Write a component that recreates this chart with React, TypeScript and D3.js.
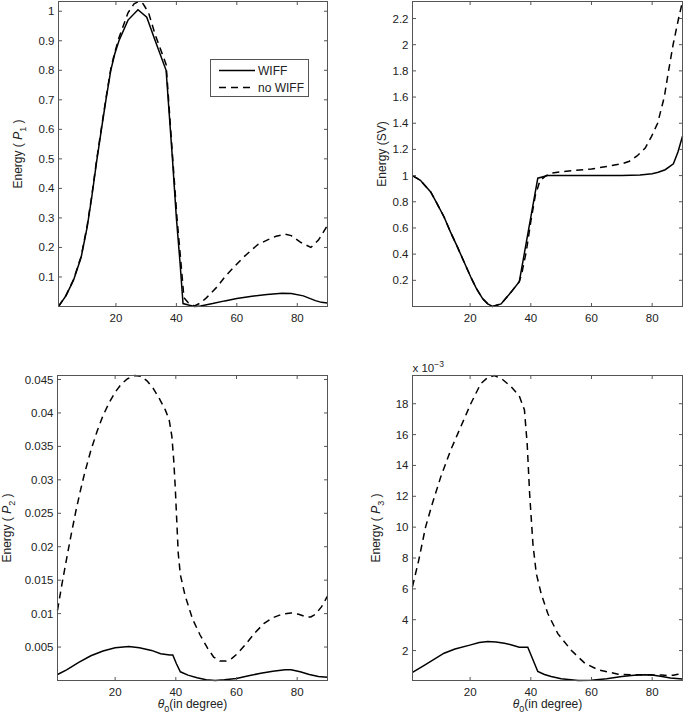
import React from "react";
import * as d3 from "d3";

type Pt = [number, number];

// Panel 1: Energy (P1)
const p1Wiff: Pt[] = [
  [1, 0.0], [3.5, 0.037], [6, 0.09], [8.5, 0.167], [10.5, 0.27], [12, 0.37], [13.6, 0.49],
  [15.2, 0.6], [16.7, 0.7], [18.3, 0.8], [19.6, 0.855], [21, 0.9], [24, 0.97], [27.3, 1.005],
  [30.2, 0.98], [33, 0.9], [36.6, 0.8], [38.7, 0.5], [40, 0.3], [41.2, 0.15], [42.2, 0.01],
  [44, 0.005], [46, 0.0], [48, 0.002], [52, 0.01], [56, 0.019], [60, 0.027], [65, 0.035],
  [70, 0.041], [75, 0.045], [78, 0.044], [82, 0.036], [86, 0.02], [88, 0.014], [90, 0.012],
];
const p1NoWiff: Pt[] = [
  [1, 0.0], [3.5, 0.038], [6, 0.092], [8.5, 0.17], [10.5, 0.275], [12, 0.375], [13.6, 0.495],
  [15.2, 0.605], [16.7, 0.705], [18.3, 0.805], [19.6, 0.86], [21, 0.91], [24, 0.995],
  [26, 1.025], [27.5, 1.033], [29, 1.025], [30.8, 0.995], [33, 0.92], [36.6, 0.82],
  [38.8, 0.5], [40.2, 0.3], [41.5, 0.15], [42.5, 0.03], [44, 0.012], [46, 0.002], [48, 0.012],
  [50, 0.03], [53.6, 0.068], [56, 0.1], [59, 0.133], [62, 0.165], [64.7, 0.19], [67, 0.21],
  [70, 0.225], [73, 0.238], [76, 0.245], [78, 0.24], [81, 0.218], [84.5, 0.2], [87, 0.225],
  [90, 0.275],
];
const p1Ticks = [0.1, 0.2, 0.3, 0.4, 0.5, 0.6, 0.7, 0.8, 0.9, 1];
const p1TickLabels = ["0.1", "0.2", "0.3", "0.4", "0.5", "0.6", "0.7", "0.8", "0.9", "1"];

// Panel 2: Energy (SV)
const p2Wiff: Pt[] = [
  [1, 1.0], [3.6, 0.964], [7, 0.875], [9, 0.79], [11.4, 0.684], [13.5, 0.57], [15.8, 0.455],
  [18, 0.34], [20.2, 0.225], [22, 0.14], [24.1, 0.06], [25.8, 0.02], [27.4, 0.0], [30.2, 0.02],
  [33.5, 0.11], [36.2, 0.19], [42.3, 0.98], [45.6, 1.0], [50, 1.0], [60, 1.0], [70, 1.0],
  [76, 1.005], [80, 1.015], [82, 1.025], [84.3, 1.045], [87, 1.09], [88.5, 1.18], [90, 1.3],
];
const p2NoWiff: Pt[] = [
  [1, 1.0], [3.6, 0.964], [7, 0.875], [9, 0.79], [11.4, 0.684], [13.5, 0.57], [15.8, 0.455],
  [18, 0.34], [20.2, 0.225], [22, 0.14], [24.1, 0.06], [25.8, 0.02], [27.4, 0.0], [30.2, 0.02],
  [33.5, 0.11], [36.2, 0.19], [37, 0.25], [38.5, 0.42], [40, 0.65], [41.5, 0.85], [43, 0.96],
  [45, 1.0], [47, 1.02], [50, 1.03], [55, 1.04], [60, 1.05], [65, 1.07], [70, 1.09],
  [72.5, 1.11], [75, 1.15], [77.7, 1.21], [79.8, 1.3], [81.8, 1.4], [84, 1.6], [85.4, 1.8],
  [86.9, 2.0], [88.7, 2.2], [90, 2.33],
];
const p2Ticks = [0.2, 0.4, 0.6, 0.8, 1, 1.2, 1.4, 1.6, 1.8, 2, 2.2];
const p2TickLabels = ["0.2", "0.4", "0.6", "0.8", "1", "1.2", "1.4", "1.6", "1.8", "2", "2.2"];

// Panel 3: Energy (P2)
const p3Wiff: Pt[] = [
  [1, 0.0009], [4, 0.0016], [8, 0.0027], [12, 0.0037], [16, 0.0044], [20, 0.0049],
  [24.5, 0.0051], [28, 0.0049], [32, 0.0045], [35, 0.004], [38, 0.0038], [39, 0.0038],
  [40.2, 0.0025], [41.5, 0.0013], [44, 0.0008], [47, 0.0004], [50, 0.0001], [53, 0.0],
  [56, 0.0001], [60, 0.0003], [64, 0.0007], [68, 0.0011], [72, 0.0014], [76, 0.0016],
  [78, 0.0016], [81, 0.0013], [84, 0.0009], [87, 0.0006], [90, 0.0005],
];
const p3NoWiff: Pt[] = [
  [1, 0.0105], [2.5, 0.0145], [4, 0.0182], [5.5, 0.0218], [7, 0.0252], [8.5, 0.0283],
  [10, 0.0311], [12, 0.0344], [14, 0.0372], [16, 0.0396], [18, 0.0415], [20, 0.0431],
  [22, 0.0443], [24, 0.0451], [26.5, 0.0456], [28.5, 0.0455], [30.5, 0.0448], [32.5, 0.0437],
  [34.5, 0.0422], [36.5, 0.0405], [37.8, 0.039], [38.7, 0.0365], [39.3, 0.033], [39.8, 0.029],
  [40.3, 0.024], [40.8, 0.019], [41.5, 0.0158], [43, 0.0128], [45.5, 0.0092], [48, 0.0068],
  [50.5, 0.0048], [52.5, 0.0035], [54.5, 0.0029], [56.5, 0.0029], [58.5, 0.0033],
  [60.5, 0.0041], [63, 0.0054], [66, 0.0071], [69, 0.0085], [72, 0.0094], [75, 0.0099],
  [78, 0.0101], [80.5, 0.0099], [83, 0.0095], [84.5, 0.0095], [86, 0.0099], [88, 0.011],
  [90, 0.0126],
];
const p3Ticks = [0.005, 0.01, 0.015, 0.02, 0.025, 0.03, 0.035, 0.04, 0.045];
const p3TickLabels = ["0.005", "0.01", "0.015", "0.02", "0.025", "0.03", "0.035", "0.04", "0.045"];

// Panel 4: Energy (P3), x 10^-3
const p4Wiff: Pt[] = [
  [1, 0.58], [5, 1.05], [11.4, 1.83], [15, 2.1], [20.2, 2.37], [23, 2.52], [25.8, 2.59],
  [28.5, 2.56], [31.3, 2.48], [34, 2.35], [36.2, 2.22], [39, 2.22], [40.5, 1.5], [42.3, 0.64],
  [44.5, 0.45], [46.7, 0.32], [50, 0.17], [55.6, 0.06], [60, 0.08], [65, 0.18], [70, 0.32],
  [74, 0.4], [77.7, 0.43], [80, 0.41], [83.2, 0.32], [86, 0.22], [90, 0.15],
];
const p4NoWiff: Pt[] = [
  [1, 6.14], [3.1, 7.9], [5.3, 10.0], [7.5, 11.5], [10.3, 13.25], [13.6, 15.0], [16.9, 16.5],
  [20.2, 18.0], [23.5, 19.3], [25.8, 19.7], [28, 19.83], [30.5, 19.6], [33.5, 19.1],
  [36.2, 18.5], [37.9, 17.6], [38.8, 15.4], [39.6, 12.2], [40.7, 8.9], [41.8, 7.0],
  [43.4, 5.7], [45.6, 4.4], [48.9, 3.1], [53.4, 2.0], [57.8, 1.18], [62.2, 0.75],
  [68.8, 0.47], [73, 0.43], [77.7, 0.43], [81, 0.42], [83.2, 0.41], [85, 0.38], [87, 0.4],
  [88.5, 0.46], [90, 0.52],
];
const p4Ticks = [2, 4, 6, 8, 10, 12, 14, 16, 18];
const p4TickLabels = ["2", "4", "6", "8", "10", "12", "14", "16", "18"];

const xTicks = [20, 40, 60, 80];
const xTickLabels = ["20", "40", "60", "80"];
const legendLabels = ["WIFF", "no WIFF"];

const FONT = "'Liberation Sans', Arial, Helvetica, sans-serif";
const FRAME = "#555";
const TEXT = "#222";
const DASH = "7,5";

type PanelProps = {
  left: number; right: number; top: number; bottom: number;
  wiff: Pt[]; noWiff: Pt[];
  yTicks: number[]; yTickLabels: string[];
  yLabel: React.ReactNode; yLabelX: number;
  xLabel?: boolean; exponent?: boolean; legend?: boolean;
};

function Panel(p: PanelProps) {
  const all = p.wiff.concat(p.noWiff);
  const ext = d3.extent(all, (d) => d[1]) as [number, number];
  const x = d3.scaleLinear().domain([1, 90]).range([p.left, p.right]);
  const y = d3.scaleLinear().domain(ext).range([p.bottom, p.top]);
  const line = d3.line<Pt>().x((d) => x(d[0])).y((d) => y(d[1]));
  const tl = 3.5;
  const cy = (p.top + p.bottom) / 2;
  const cx = (p.left + p.right) / 2;
  return (
    <g>
      <path d={line(p.noWiff) || ""} fill="none" stroke="#000" strokeWidth={1.5} strokeDasharray={DASH} />
      <path d={line(p.wiff) || ""} fill="none" stroke="#000" strokeWidth={1.5} />
      <rect x={p.left} y={p.top} width={p.right - p.left} height={p.bottom - p.top} fill="none" stroke={FRAME} strokeWidth={1} />
      {xTicks.map((t, i) => (
        <g key={"xt" + t}>
          <line x1={x(t)} x2={x(t)} y1={p.bottom} y2={p.bottom - tl} stroke={FRAME} />
          <line x1={x(t)} x2={x(t)} y1={p.top} y2={p.top + tl} stroke={FRAME} />
          <text x={x(t)} y={p.bottom + 15} textAnchor="middle" fontSize={11.5} fill={TEXT} fontFamily={FONT}>
            {xTickLabels[i]}
          </text>
        </g>
      ))}
      {p.yTicks.map((t, i) => (
        <g key={"yt" + t}>
          <line x1={p.left} x2={p.left + tl} y1={y(t)} y2={y(t)} stroke={FRAME} />
          <line x1={p.right} x2={p.right - tl} y1={y(t)} y2={y(t)} stroke={FRAME} />
          <text x={p.left - 4} y={y(t) + 4} textAnchor="end" fontSize={11.5} fill={TEXT} fontFamily={FONT}>
            {p.yTickLabels[i]}
          </text>
        </g>
      ))}
      <text transform={`translate(${p.yLabelX},${cy}) rotate(-90)`} textAnchor="middle" fontSize={12} fill={TEXT} fontFamily={FONT}>
        {p.yLabel}
      </text>
      {p.xLabel && (
        <text x={cx} y={p.bottom + 27} textAnchor="middle" fontSize={12} fill={TEXT} fontFamily={FONT}>
          <tspan fontStyle="italic">θ</tspan>
          <tspan fontSize={9} dy={4}>0</tspan>
          <tspan dy={-4}>(in degree)</tspan>
        </text>
      )}
      {p.exponent && (
        <text x={p.left} y={p.top - 4} fontSize={11.5} fill={TEXT} fontFamily={FONT}>
          x 10<tspan fontSize={8.5} dy={-5}>−3</tspan>
        </text>
      )}
      {p.legend && (
        <g fontFamily={FONT} fontSize={12} fill={TEXT}>
          <rect x={210.5} y={59.5} width={98} height={37} fill="#fff" stroke={FRAME} />
          <line x1={219} x2={255} y1={70.5} y2={70.5} stroke="#000" strokeWidth={1.5} />
          <line x1={219} x2={255} y1={87.5} y2={87.5} stroke="#000" strokeWidth={1.5} strokeDasharray={DASH} />
          <text x={258} y={74.8}>{legendLabels[0]}</text>
          <text x={258} y={91.8}>{legendLabels[1]}</text>
        </g>
      )}
    </g>
  );
}

function EnergyLabel({ sub, plain }: { sub?: string; plain?: string }) {
  if (plain) return <>{"Energy (" + plain + ")"}</>;
  return (
    <>
      <tspan>{"Energy ( "}</tspan>
      <tspan fontStyle="italic">P</tspan>
      <tspan fontSize={9} dy={4}>{sub}</tspan>
      <tspan dy={-4}>{" )"}</tspan>
    </>
  );
}

export default function App() {
  return (
    <svg width={685} height={717} style={{ position: "absolute", left: 0, top: 0, background: "#fff" }}>
      <rect x={0} y={0} width={685} height={717} fill="#fff" />
      <Panel left={58.5} right={327.5} top={1.5} bottom={306.5} wiff={p1Wiff} noWiff={p1NoWiff}
        yTicks={p1Ticks} yTickLabels={p1TickLabels} yLabel={<EnergyLabel sub="1" />} yLabelX={22} legend />
      <Panel left={412.5} right={682.5} top={1.5} bottom={306.5} wiff={p2Wiff} noWiff={p2NoWiff}
        yTicks={p2Ticks} yTickLabels={p2TickLabels} yLabel={<EnergyLabel plain="SV" />} yLabelX={386} />
      <Panel left={57.5} right={327.5} top={375.5} bottom={680.5} wiff={p3Wiff} noWiff={p3NoWiff}
        yTicks={p3Ticks} yTickLabels={p3TickLabels} yLabel={<EnergyLabel sub="2" />} yLabelX={11} xLabel />
      <Panel left={412.5} right={682.5} top={375.5} bottom={680.5} wiff={p4Wiff} noWiff={p4NoWiff}
        yTicks={p4Ticks} yTickLabels={p4TickLabels} yLabel={<EnergyLabel sub="3" />} yLabelX={380} xLabel exponent />
    </svg>
  );
}
